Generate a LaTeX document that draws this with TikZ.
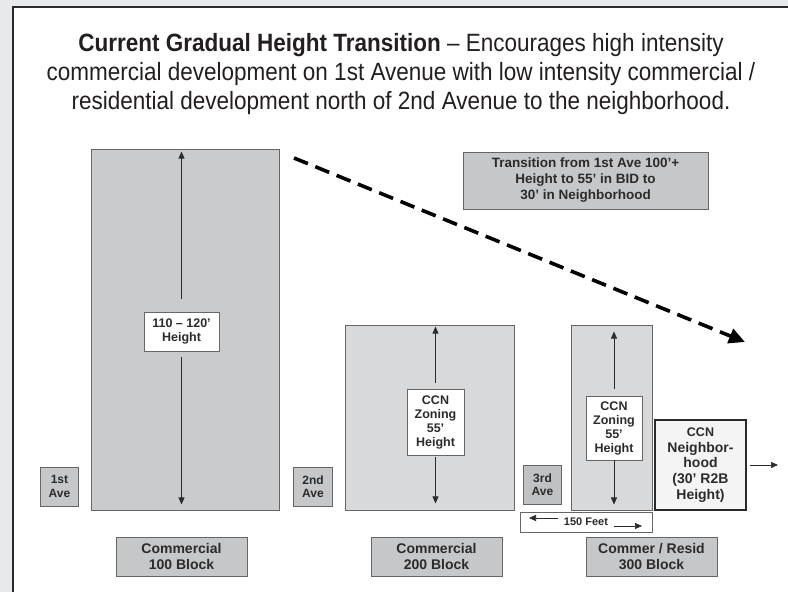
\documentclass[tikz,border=0pt]{standalone}
\usepackage{fontspec}
\setmainfont{Liberation Sans}
\newfontfamily\titlefont[FakeStretch=0.9]{Liberation Sans}
\usetikzlibrary{arrows.meta}
\definecolor{bgc}{HTML}{E8E9EB}
\definecolor{framec}{HTML}{2A2A2A}
\definecolor{tallfill}{HTML}{CACBCD}
\definecolor{midfill}{HTML}{D8D9DB}
\definecolor{labfill}{HTML}{C6C7C9}
\definecolor{avefill}{HTML}{C0C1C3}
\definecolor{nbfill}{HTML}{F4F4F4}
\definecolor{edgec}{HTML}{666666}
\definecolor{txtc}{HTML}{2B2B2B}
\definecolor{ttlc}{HTML}{231F20}
\begin{document}
\begin{tikzpicture}[x=1pt,y=-1pt,
  blk/.style={draw=edgec, line width=0.9pt, inner sep=0pt},
  tallblk/.style={blk, fill=tallfill},
  midblk/.style={blk, fill=midfill},
  hlab/.style={draw=edgec, line width=0.9pt, fill=white, inner sep=0pt, align=center,
     font=\bfseries\fontsize{12.5}{14}\selectfont, text=txtc},
  avebox/.style={draw=edgec, line width=0.9pt, fill=labfill, inner sep=0pt, align=center,
     font=\bfseries\fontsize{12}{13.3}\selectfont, text=txtc, minimum width=38.5pt, minimum height=39pt},
  blocklab/.style={draw=edgec, line width=0.9pt, fill=labfill, inner sep=0pt, align=center,
     font=\bfseries\fontsize{14}{15.5}\selectfont, text=txtc, minimum width=131pt, minimum height=39pt},
  arr/.style={draw=txtc, line width=0.7pt, -{Triangle[length=7pt,width=6pt]}},
  dashline/.style={draw=black, line width=3.6pt, dash pattern=on 15pt off 8pt, -{Triangle[length=16pt,width=15pt]}}
]
\fill[bgc] (0,0) rectangle (788,592);
\useasboundingbox (0,0) rectangle (788,592);
\fill[white] (13,7) rectangle (790,594);
\draw[framec, line width=1.5pt] (13,594) -- (13,7) -- (790,7);

% title
\node[anchor=north, inner sep=0pt, align=center, text=ttlc,
      font=\titlefont\fontsize{25}{29}\selectfont] (title) at (401,33)
  {\textbf{Current Gradual Height Transition} – Encourages high intensity\\
   commercial development on 1st Avenue with low intensity commercial /\\
   residential development north of 2nd Avenue to the neighborhood.};

% tall blocks
\node[tallblk, minimum width=188pt, minimum height=361pt] (blk1) at (185,329.5) {};
\node[midblk, minimum width=169pt, minimum height=185pt] (blk2) at (429.5,417.5) {};
\node[midblk, minimum width=81pt, minimum height=185pt] (blk3) at (611.5,417.5) {};

% height labels
\node[hlab, minimum width=75pt, minimum height=39pt] (h1) at (181.5,331.5) {110 – 120'\\Height};
\node[hlab, minimum width=57pt, minimum height=66pt] (h2) at (435.5,422) {CCN\\Zoning\\55'\\Height};
\node[hlab, minimum width=56pt, minimum height=64pt] (h3) at (614,428) {CCN\\Zoning\\55'\\Height};

% arrow end points
\coordinate (t1) at ([yshift=-3pt]blk1.north);
\coordinate (b1) at ([yshift=6pt]blk1.south);
\coordinate (t2) at ([yshift=-2pt]blk2.north);
\coordinate (b2) at ([yshift=7pt]blk2.south);
\coordinate (t3) at ([yshift=-7pt]blk3.north);
\coordinate (b3) at ([yshift=6pt]blk3.south);

\draw[arr] ([yshift=13pt]h1.north) -- (h1.north |- t1);
\draw[arr] ([yshift=-6pt]h1.south) -- (h1.south |- b1);
\draw[arr] ([yshift=6pt]h2.north) -- (h2.north |- t2);
\draw[arr] ([yshift=-2pt]h2.south) -- (h2.south |- b2);
\draw[arr] ([yshift=7pt]h3.north) -- (h3.north |- t3);
\draw[arr] (h3.south) -- (h3.south |- b3);

% avenue boxes
\node[avebox] (a1) at (59.5,486.5) {1st\\Ave};
\node[avebox] (a2) at (313,486.5) {2nd\\Ave};
\node[avebox, fill=avefill] (a3) at (542.5,484.5) {3rd\\Ave};

% block labels
\node[blocklab] (c1) at (181.5,556.5) {Commercial\\100 Block};
\node[blocklab] (c2) at (436.5,556.5) {Commercial\\200 Block};
\node[blocklab] (c3) at (651.5,556.5) {Commer / Resid\\300 Block};

% 150 feet
\node[draw=edgec, line width=0.9pt, fill=white, inner sep=0pt, minimum width=132pt, minimum height=20pt] (ft) at (586,522) {};
\node[inner sep=0pt, font=\bfseries\fontsize{11}{12}\selectfont, text=txtc] (ftxt) at (586,522) {150 Feet};
\coordinate (fl1) at (558,518);
\coordinate (fl2) at (529,518);
\coordinate (fr1) at (614,526);
\coordinate (fr2) at (642,526);
\draw[arr] (fl1) -- (fl2);
\draw[arr] (fr1) -- (fr2);

% neighborhood
\node[draw=framec, line width=1.4pt, fill=nbfill, inner sep=0pt, align=center,
      font=\bfseries\fontsize{14}{15.7}\selectfont, text=txtc,
      minimum width=91pt, minimum height=90pt] (nb) at (700.5,465)
  {{\fontsize{12.5}{14}\selectfont CCN}\\Neighbor-\\hood\\(30' R2B\\Height)};
\coordinate (nbend) at (778,465);
\draw[arr] ([xshift=3pt]nb.east) -- (nbend);

% transition label
\node[draw=edgec, line width=0.9pt, fill=labfill, inner sep=0pt, align=center,
      font=\bfseries\fontsize{13.5}{16}\selectfont, text=txtc,
      minimum width=245pt, minimum height=57pt] (tr) at (585.5,180.5)
  {Transition from 1st Ave 100'+\\Height to 55' in BID to\\30' in Neighborhood};

% dashed transition arrow
\coordinate (ds) at (294,158);
\coordinate (de) at (745,342);
\draw[dashline] (ds) -- (de);
\end{tikzpicture}
\end{document}
